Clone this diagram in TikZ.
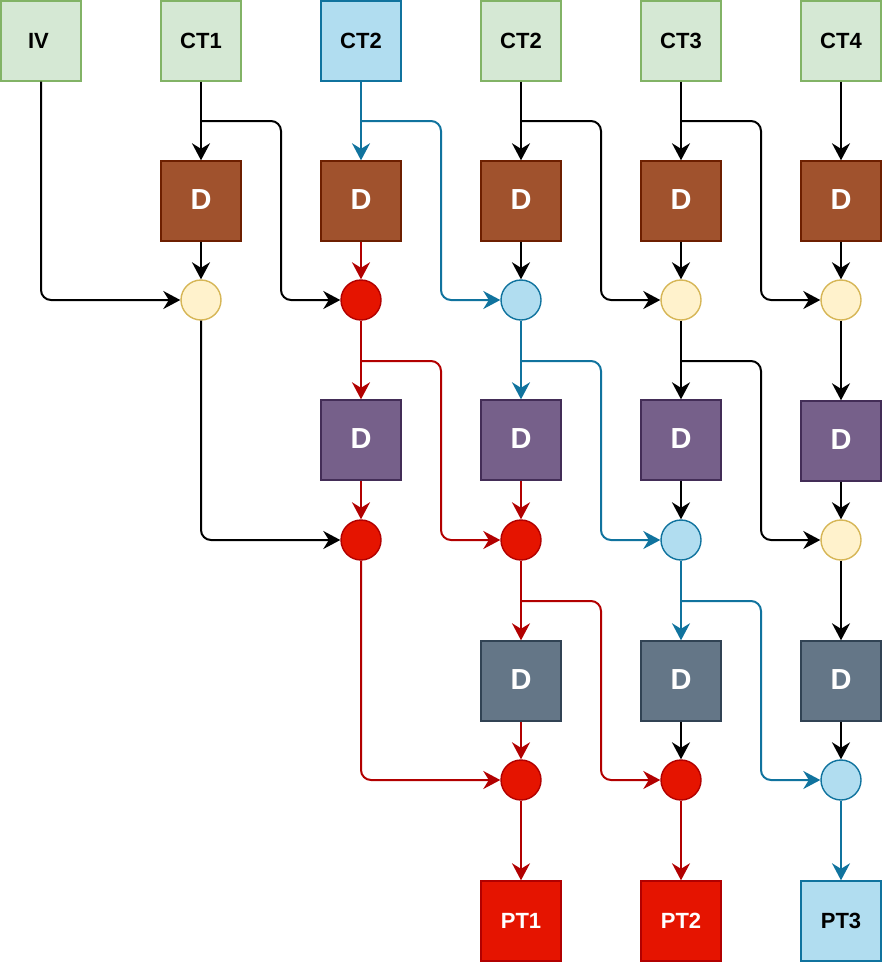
\documentclass[tikz,border=0pt]{standalone}
\usepackage{fontspec}
\setmainfont{Liberation Sans}
\usetikzlibrary{arrows.meta}
\definecolor{gfill}{HTML}{D5E8D4}
\definecolor{gline}{HTML}{82B366}
\definecolor{bfill}{HTML}{B1DDF0}
\definecolor{bline}{HTML}{10739E}
\definecolor{brfill}{HTML}{A0522D}
\definecolor{brline}{HTML}{6D1F00}
\definecolor{pfill}{HTML}{76608A}
\definecolor{pline}{HTML}{432D57}
\definecolor{sfill}{HTML}{647687}
\definecolor{sline}{HTML}{314354}
\definecolor{yfill}{HTML}{FFF2CC}
\definecolor{yline}{HTML}{D6B656}
\definecolor{rfill}{HTML}{E51400}
\definecolor{rline}{HTML}{B20000}
\tikzset{
  box/.style={draw, rectangle, minimum width=80pt, minimum height=80pt, inner sep=0pt, line width=1.4pt, font=\bfseries\fontsize{22}{26}\selectfont},
  gbox/.style={box, fill=gfill, draw=gline},
  bbox/.style={box, fill=bfill, draw=bline},
  rbox/.style={box, fill=rfill, draw=rline, text=white},
  dbox/.style={box, text=white, font=\bfseries\fontsize{29}{34}\selectfont},
  dbrown/.style={dbox, fill=brfill, draw=brline},
  dpurple/.style={dbox, fill=pfill, draw=pline},
  dslate/.style={dbox, fill=sfill, draw=sline},
  circ/.style={draw, circle, minimum size=40pt, inner sep=0pt, line width=1.4pt},
  ycirc/.style={circ, fill=yfill, draw=yline},
  rcirc/.style={circ, fill=rfill, draw=rline},
  bcirc/.style={circ, fill=bfill, draw=bline},
  arr/.style={-{Stealth[length=17pt,width=18pt,inset=5.5pt,sharp]}, line width=2pt},
  ak/.style={arr, draw=black},
  ar/.style={arr, draw=rline},
  ab/.style={arr, draw=bline},
  rc/.style={rounded corners=10pt},
}
\newcommand{\dlab}{\raisebox{2.5pt}{D}}
\begin{document}
\begin{tikzpicture}[x=1pt,y=-1pt]
\useasboundingbox (0,0) rectangle (882,962);
% top row
\node[gbox] (iv) at (41,41) {\hspace*{-5pt}\raisebox{1pt}{IV}};
\node[gbox] (ct1) at (201,41) {\raisebox{1pt}{CT1}};
\node[bbox] (ct2b) at (361,41) {\raisebox{1pt}{CT2}};
\node[gbox] (ct2) at (521,41) {\raisebox{1pt}{CT2}};
\node[gbox] (ct3) at (681,41) {\raisebox{1pt}{CT3}};
\node[gbox] (ct4) at (841,41) {\raisebox{1pt}{CT4}};
% D row 1
\node[dbrown] (d11) at (201,201) {\dlab};
\node[dbrown] (d12) at (361,201) {\dlab};
\node[dbrown] (d13) at (521,201) {\dlab};
\node[dbrown] (d14) at (681,201) {\dlab};
\node[dbrown] (d15) at (841,201) {\dlab};
% circle row 1
\node[ycirc] (c11) at (201,300) {};
\node[rcirc] (c12) at (361,300) {};
\node[bcirc] (c13) at (521,300) {};
\node[ycirc] (c14) at (681,300) {};
\node[ycirc] (c15) at (841,300) {};
% D row 2
\node[dpurple] (d22) at (361,440) {\dlab};
\node[dpurple] (d23) at (521,440) {\dlab};
\node[dpurple] (d24) at (681,440) {\dlab};
\node[dpurple] (d25) at (841,441) {\dlab};
% circle row 2
\node[rcirc] (c22) at (361,540) {};
\node[rcirc] (c23) at (521,540) {};
\node[bcirc] (c24) at (681,540) {};
\node[ycirc] (c25) at (841,540) {};
% D row 3
\node[dslate] (d33) at (521,681) {\dlab};
\node[dslate] (d34) at (681,681) {\dlab};
\node[dslate] (d35) at (841,681) {\dlab};
% circle row 3
\node[rcirc] (c33) at (521,780) {};
\node[rcirc] (c34) at (681,780) {};
\node[bcirc] (c35) at (841,780) {};
% bottom
\node[rbox] (pt1) at (521,921) {\raisebox{1pt}{PT1}};
\node[rbox] (pt2) at (681,921) {\raisebox{1pt}{PT2}};
\node[bbox] (pt3) at (841,921) {\raisebox{1pt}{PT3}};
% junctions
\coordinate (jA) at (201,121);
\coordinate (jB) at (361,121);
\coordinate (jC) at (521,121);
\coordinate (jD) at (681,121);
\coordinate (jE) at (361,361);
\coordinate (jF) at (521,361);
\coordinate (jG) at (681,361);
\coordinate (jH) at (521,601);
\coordinate (jI) at (681,601);
% black edges
\draw[ak] (iv.south) [rc] |- (c11.west);
\draw[ak] (ct1) -- (d11);
\draw[ak] (jA) [rc] -- ++(80,0) |- (c12.west);
\draw[ak] (d11) -- (c11);
\draw[ak] (ct2) -- (d13);
\draw[ak] (jC) [rc] -- ++(80,0) |- (c14.west);
\draw[ak] (ct3) -- (d14);
\draw[ak] (jD) [rc] -- ++(80,0) |- (c15.west);
\draw[ak] (ct4) -- (d15);
\draw[ak] (d13) -- (c13);
\draw[ak] (d14) -- (c14);
\draw[ak] (d15) -- (c15);
\draw[ak] (c11.south) [rc] |- (c22.west);
\draw[ak] (c14) -- (d24);
\draw[ak] (jG) [rc] -- ++(80,0) |- (c25.west);
\draw[ak] (c15) -- (d25);
\draw[ak] (d24) -- (c24);
\draw[ak] (d25) -- (c25);
\draw[ak] (c25) -- (d35);
\draw[ak] (d34) -- (c34);
\draw[ak] (d35) -- (c35);
% red edges
\draw[ar] (d12) -- (c12);
\draw[ar] (c12) -- (d22);
\draw[ar] (jE) [rc] -- ++(80,0) |- (c23.west);
\draw[ar] (d22) -- (c22);
\draw[ar] (d23) -- (c23);
\draw[ar] (c22.south) [rc] |- (c33.west);
\draw[ar] (c23) -- (d33);
\draw[ar] (jH) [rc] -- ++(80,0) |- (c34.west);
\draw[ar] (d33) -- (c33);
\draw[ar] (c33) -- (pt1);
\draw[ar] (c34) -- (pt2);
% blue edges
\draw[ab] (ct2b) -- (d12);
\draw[ab] (jB) [rc] -- ++(80,0) |- (c13.west);
\draw[ab] (c13) -- (d23);
\draw[ab] (jF) [rc] -- ++(80,0) |- (c24.west);
\draw[ab] (c24) -- (d34);
\draw[ab] (jI) [rc] -- ++(80,0) |- (c35.west);
\draw[ab] (c35) -- (pt3);
\end{tikzpicture}
\end{document}
